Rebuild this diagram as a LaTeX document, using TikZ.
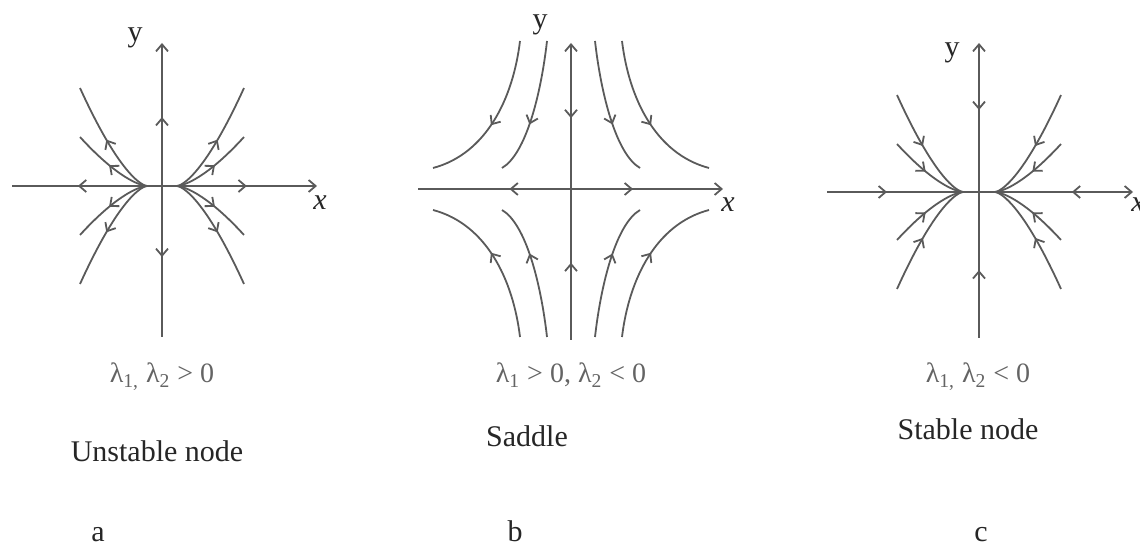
\documentclass[tikz,border=0pt]{standalone}
\usepackage{fontspec}
\setmainfont{Liberation Serif}
\usepackage{tikz}
\usetikzlibrary{arrows.meta,decorations.markings}

\definecolor{flowgray}{RGB}{90,90,90}
\definecolor{labgray}{RGB}{100,100,100}

\begin{document}
\begin{tikzpicture}[x=0.5pt,y=0.5pt,
    tip/.style={-{Straight Barb[length=3.5pt,width=6pt]}},
    line/.style={draw=flowgray,line width=0.9pt},
    fwd/.style={postaction={decorate,decoration={markings,
        mark=at position #1 with {\arrow{Straight Barb[length=3.5pt,width=6pt]}}}}},
    bwd/.style={postaction={decorate,decoration={markings,
        mark=at position #1 with {\arrowreversed{Straight Barb[length=3.5pt,width=6pt]}}}}},
    axlabel/.style={font=\fontsize{15}{18}\selectfont,text=black!85},
    caption/.style={anchor=base,font=\fontsize{15}{18}\selectfont,text=black!85},
    eigen/.style={anchor=base,font=\fontsize{14}{16}\selectfont,text=labgray}]
    % Page frame (pixel units)
    \useasboundingbox (0,0) rectangle (1140,550);

    % (a) Unstable node
    \begin{scope}[shift={(162,364)}]
        % Axes
        \draw[line,tip,bwd=0.216,fwd=0.77] (-150,0) -- (155,0);
        \draw[line,tip,bwd=0.272,fwd=0.748] (0,-151) -- (0,143);
        % Trajectories leaving the origin
        \foreach \sx in {-1,1}
            \foreach \sy in {-1,1}
                \foreach \amp in {98,49}
                    \draw[line,fwd=0.52,xscale=\sx,yscale=\sy]
                        plot[domain=0:1,samples=30,variable=\t] ({15+67*\t},{\amp*\t*sqrt(\t)});
    \end{scope}
    \node[axlabel] (ya) at (135,512) {y};
    \node[axlabel] (xa) at (320,347) {\itshape x};

    % (b) Saddle
    \begin{scope}[shift={(571,361)}]
        % Axes
        \draw[line,tip,bwd=0.30,fwd=0.705] (-153,0) -- (152,0);
        \draw[line,tip,fwd=0.26,bwd=0.747] (0,-151) -- (0,146);
        % Hyperbolic trajectories
        \foreach \sx in {-1,1}
            \foreach \sy in {-1,1} {
                \draw[line,fwd=0.55,xscale=\sx,yscale=\sy]
                    (-51,148) .. controls (-58,90) and (-85,35) .. (-138,21);
                \draw[line,fwd=0.62,xscale=\sx,yscale=\sy]
                    (-24,148) .. controls (-30,95) and (-45,35) .. (-69,21);
            }
    \end{scope}
    \node[axlabel] (yb) at (540,525) {y};
    \node[axlabel] (xb) at (728,345) {\itshape x};

    % (c) Stable node
    \begin{scope}[shift={(979,358)}]
        % Axes
        \draw[line,tip,fwd=0.196,bwd=0.80] (-152,0) -- (154,0);
        \draw[line,tip,fwd=0.23,bwd=0.773] (0,-146) -- (0,149);
        % Trajectories entering the origin
        \foreach \sx in {-1,1}
            \foreach \sy in {-1,1}
                \foreach \amp in {97,48}
                    \draw[line,bwd=0.52,xscale=\sx,yscale=\sy]
                        plot[domain=0:1,samples=30,variable=\t] ({16+66*\t},{\amp*\t*sqrt(\t)});
    \end{scope}
    \node[axlabel] (yc) at (952,497) {y};
    \node[axlabel] (xc) at (1138,345) {\itshape x};

    % Eigenvalue conditions
    \node[eigen] (eiga) at (162,167) {λ\textsubscript{1,} λ\textsubscript{2} > 0};
    \node[eigen] (eigb) at (571,167) {λ\textsubscript{1} > 0, λ\textsubscript{2} < 0};
    \node[eigen] (eigc) at (978,167) {λ\textsubscript{1,} λ\textsubscript{2} < 0};

    % Names and panel letters
    \node[caption] (namea) at (157,88) {Unstable node};
    \node[caption] (nameb) at (527,103) {Saddle};
    \node[caption] (namec) at (968,110) {Stable node};
    \node[caption] (leta) at (98,8) {a};
    \node[caption] (letb) at (515,8) {b};
    \node[caption] (letc) at (981,8) {c};
\end{tikzpicture}
\end{document}
